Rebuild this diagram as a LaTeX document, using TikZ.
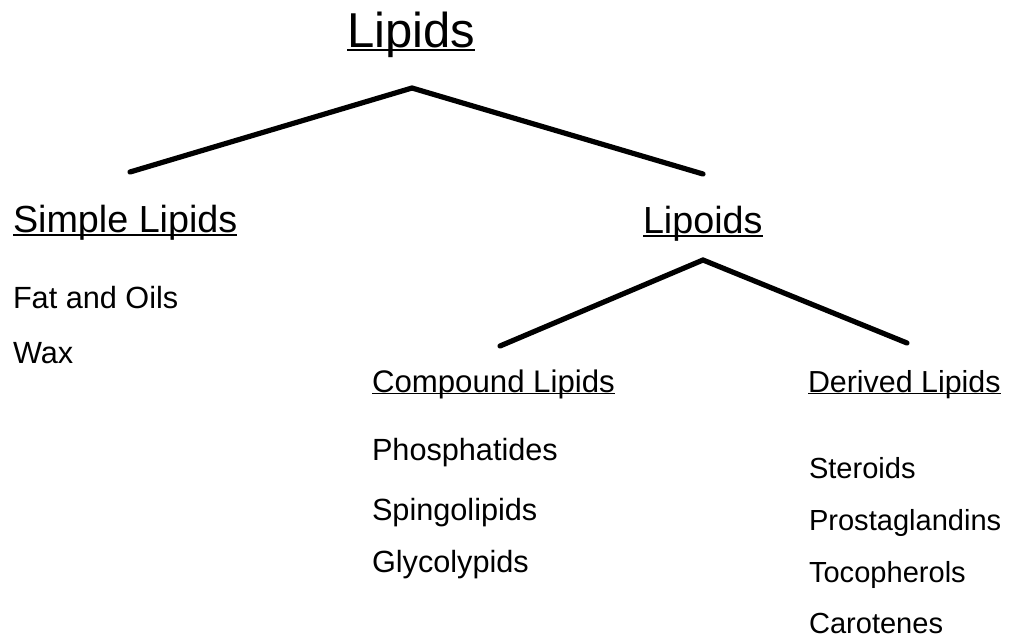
\documentclass[tikz,border=0pt]{standalone}
\usepackage{fontspec}
\setmainfont{Liberation Sans}
\usetikzlibrary{positioning}

% underlined heading text: #1 = depth of the rule below the baseline
\newlength{\headwd}
\newcommand{\headline}[2]{\settowidth{\headwd}{#2}%
  \rlap{\rule[-#1]{\headwd}{1.2pt}}#2}

\begin{document}
\begin{tikzpicture}[x=0.75pt, y=-0.75pt,
    txt/.style={anchor=base west, inner sep=0pt, outer sep=0pt},
    item/.style={txt, font=\fontsize{23}{27}\selectfont},
    ditem/.style={txt, font=\fontsize{21.8}{26}\selectfont},
    branch/.style={line width=3.9pt, line cap=round, line join=miter}]
  \useasboundingbox (0,0) rectangle (1012,643);

  % headings
  \node[txt, font=\fontsize{36.75}{44}\selectfont] (lipids) at (347,47)
    {\headline{2.85pt}{Lipids}};
  \node[txt, font=\fontsize{28.3}{34}\selectfont] (simple) at (13,232)
    {\headline{2.85pt}{Simple Lipids}};
  \node[txt, font=\fontsize{28.3}{34}\selectfont] (lipoids) at (643,233)
    {\headline{2.85pt}{Lipoids}};
  \node[txt, font=\fontsize{23.4}{28}\selectfont] (compound) at (372,392)
    {\headline{1.8pt}{Compound Lipids}};
  \node[txt, font=\fontsize{22.8}{28}\selectfont] (derived) at (808,392)
    {\headline{1.8pt}{Derived Lipids}};

  % members
  \node[item] (fat) at (13,308) {Fat and Oils};
  \node[item] (wax) at (13,363) {Wax};
  \node[item] (phos) at (372,460) {Phosphatides};
  \node[item] (sping) at (372,520) {Spingolipids};
  \node[item] (glyco) at (372,572) {Glycolypids};
  \node[ditem] (ster) at (809,478) {Steroids};
  \node[ditem] (prosta) at (809,530) {Prostaglandins};
  \node[ditem] (toco) at (809,582) {Tocopherols};
  \node[ditem] (carot) at (809,633) {Carotenes};

  % branches
  \coordinate (lipTop) at (412,88);
  \coordinate (lipL) at (130,172);
  \coordinate (lipR) at (703,174);
  \coordinate (oidTop) at (703,260);
  \coordinate (oidL) at (500,346);
  \coordinate (oidR) at (907,343);
  \draw[branch] (lipL) -- (lipTop) -- (lipR);
  \draw[branch] (oidL) -- (oidTop) -- (oidR);
\end{tikzpicture}
\end{document}
